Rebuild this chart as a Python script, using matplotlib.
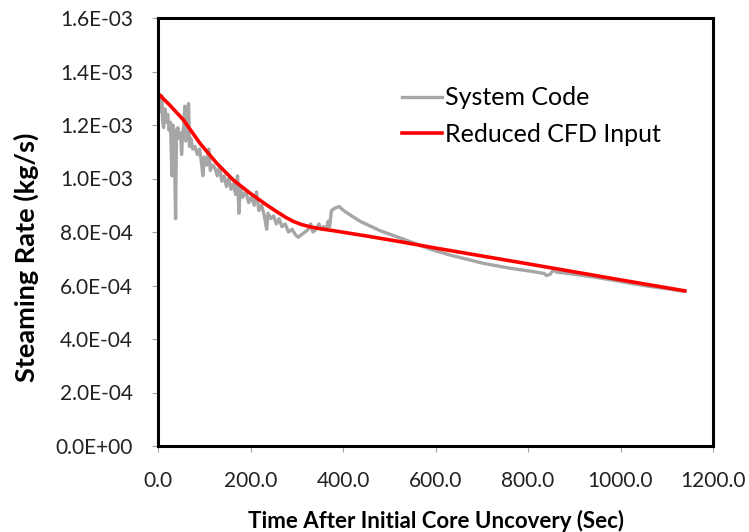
import numpy as np
import matplotlib
matplotlib.use('Agg')
import matplotlib.pyplot as plt
from matplotlib.ticker import FuncFormatter, MultipleLocator

# System Code (noisy) - time (s), steaming rate (kg/s)
sys_t = [0, 1, 4, 6, 8, 10, 12, 15, 18, 21, 24, 27, 30, 32, 35, 38, 40, 43, 46, 49,
         51, 53, 56, 58, 60, 63, 66, 68, 71, 75, 80, 85, 90, 94, 97, 100, 105, 110,
         113, 118, 123, 128, 133, 138, 143, 148, 153, 158, 163, 168, 172, 175, 178,
         183, 190, 196, 202, 208, 213, 218, 224, 230, 235, 238, 244, 250, 256, 262,
         268, 275, 282, 290, 297, 303, 310, 318, 325, 330, 335, 342, 348, 353, 358,
         364, 368, 371, 375, 383, 392, 398, 410, 437, 480, 545, 590, 631, 703, 760,
         811, 835, 840, 848, 855, 862, 900, 956, 1000, 1050, 1100, 1139]
sys_rate = [1.05, 1.32, 1.30, 1.25, 1.31, 1.22, 1.19, 1.26, 1.21, 1.24, 1.18, 1.21,
            1.01, 1.20, 1.18, 0.85, 1.17, 1.19, 1.15, 1.17, 1.09, 1.16, 1.20, 1.27,
            1.14, 1.19, 1.28, 1.12, 1.15, 1.11, 1.12, 1.09, 1.11, 1.06, 1.01, 1.08,
            1.05, 1.11, 1.03, 1.05, 1.04, 1.01, 1.04, 0.99, 1.01, 0.97, 1.00, 0.96,
            0.98, 0.94, 1.01, 0.87, 0.97, 0.93, 0.95, 0.91, 0.93, 0.90, 0.95, 0.88,
            0.90, 0.86, 0.81, 0.87, 0.85, 0.86, 0.83, 0.85, 0.82, 0.83, 0.80, 0.81,
            0.79, 0.78, 0.79, 0.80, 0.81, 0.83, 0.80, 0.81, 0.83, 0.81, 0.82, 0.81,
            0.84, 0.82, 0.88, 0.89, 0.895, 0.885, 0.87, 0.84, 0.805, 0.764, 0.735,
            0.714, 0.683, 0.665, 0.652, 0.645, 0.637, 0.642, 0.658, 0.650, 0.642,
            0.628, 0.615, 0.600, 0.588, 0.578]

# Reduced CFD Input (smooth)
cfd_t = [0, 25, 55, 91, 127, 163, 199, 235, 255, 275, 292, 310, 330, 355, 379,
         451, 523, 600, 800, 1000, 1139]
cfd_rate = [1.318, 1.275, 1.219, 1.131, 1.057, 0.994, 0.945, 0.901, 0.878, 0.856,
            0.840, 0.828, 0.819, 0.811, 0.805, 0.785, 0.764, 0.740, 0.681, 0.621,
            0.580]

font = 'Lato'
plt.rcParams['font.family'] = [font, 'DejaVu Sans']

fig = plt.figure(figsize=(7.49, 5.32), dpi=100)
ax = fig.add_axes([158/749, 1-446/532, 555/749, 428/532])

ax.plot(sys_t, np.array(sys_rate)*1e-3, color='#A6A6A6', lw=2.4, label='System Code')
ax.plot(cfd_t, np.array(cfd_rate)*1e-3, color='#FF0000', lw=2.6, label='Reduced CFD Input')

ax.set_xlim(0, 1200)
ax.set_ylim(0, 1.6e-3)
ax.xaxis.set_major_locator(MultipleLocator(200))
ax.yaxis.set_major_locator(MultipleLocator(0.2e-3))
ax.xaxis.set_major_formatter(FuncFormatter(lambda v, p: f"{v:.1f}"))
ax.yaxis.set_major_formatter(FuncFormatter(lambda v, p: f"{v:.1E}"))

for s in ax.spines.values():
    s.set_linewidth(2.2)
    s.set_color('black')
ax.tick_params(direction='out', length=4, width=0.8, color='#A0A0A0',
               labelsize=15, labelcolor='#222222')
ax.tick_params(axis='x', pad=14)
ax.tick_params(axis='y', pad=14)

ax.set_xlabel('Time After Initial Core Uncovery (Sec)', fontsize=16, fontweight='bold')
ax.set_ylabel('Steaming Rate (kg/s)', fontsize=19.5, fontweight='bold')
ax.xaxis.set_label_coords(0.5, -0.15)
ax.yaxis.set_label_coords(-0.215, 0.44)

ax.legend(loc='upper left', bbox_to_anchor=(0.44, 0.84), frameon=False,
          fontsize=18, handlelength=1.6, handletextpad=0.1, borderpad=0,
          borderaxespad=0, labelspacing=0.55)

fig.savefig('out.png', dpi=100)
